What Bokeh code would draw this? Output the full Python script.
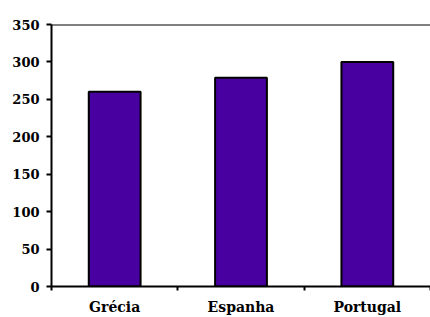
from bokeh.plotting import figure
from bokeh.models import FixedTicker, Range1d, Span, ColumnDataSource
from bokeh.embed import file_html
from bokeh.resources import INLINE

categories = ["Grécia", "Espanha", "Portugal"]
values = [260, 279, 300]
y_ticks = [0, 50, 100, 150, 200, 250, 300, 350]

xpos = [i + 0.5 for i in range(len(categories))]
src = ColumnDataSource(dict(x=xpos, top=values, cat=categories))

p = figure(width=430, height=317, output_backend="svg", toolbar_location=None,
           x_range=Range1d(0, len(categories)), y_range=Range1d(0, 350),
           min_border_left=51, min_border_right=0, min_border_top=24, min_border_bottom=29)
p.outline_line_color = None
p.xgrid.visible = False
p.ygrid.visible = False
p.background_fill_color = "white"
p.border_fill_color = "white"

p.vbar(x="x", top="top", width=0.41, source=src, fill_color="#4800A0",
       line_color="black", line_width=2)

p.add_layout(Span(location=350, dimension="width", line_color="black", line_width=2))

font = "DejaVu Serif"
p.yaxis.ticker = FixedTicker(ticks=y_ticks)
p.yaxis.axis_line_width = 2
p.yaxis.major_tick_out = 5
p.yaxis.major_tick_in = 0
p.yaxis.minor_tick_out = 0
p.yaxis.minor_tick_in = 0
p.yaxis.major_tick_line_width = 2
p.yaxis.major_label_text_font = font
p.yaxis.major_label_text_font_style = "bold"
p.yaxis.major_label_text_font_size = "13px"
p.yaxis.major_label_text_color = "black"
p.yaxis.major_label_standoff = 7

p.xaxis.ticker = FixedTicker(ticks=xpos, minor_ticks=list(range(len(categories) + 1)))
p.xaxis.major_label_overrides = {x: c for x, c in zip(xpos, categories)}
p.xaxis.axis_line_width = 2
p.xaxis.major_tick_out = 0
p.xaxis.major_tick_in = 0
p.xaxis.minor_tick_out = 4
p.xaxis.minor_tick_in = 0
p.xaxis.minor_tick_line_width = 2
p.xaxis.major_label_text_font = font
p.xaxis.major_label_text_font_style = "bold"
p.xaxis.major_label_text_font_size = "14px"
p.xaxis.major_label_text_color = "black"
p.xaxis.major_label_standoff = 8

open("out.html", "w").write(file_html(p, INLINE))
